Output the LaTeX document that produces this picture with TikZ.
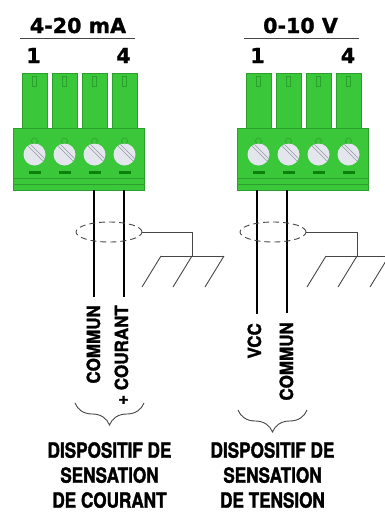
\documentclass[tikz,border=0pt]{standalone}
\usepackage{fontspec}
\usetikzlibrary{decorations.pathreplacing,shapes.geometric,calc}
\newfontfamily\titlefont{DejaVu Sans}[BoldFeatures={FakeBold=1.2}]
\newfontfamily\cnfont{TeX Gyre Heros}[FakeStretch=0.82, BoldFeatures={FakeBold=1.6}]
\newfontfamily\lblfont{TeX Gyre Heros}[FakeStretch=0.94, BoldFeatures={FakeBold=1.6}]
\definecolor{tabgreen}{RGB}{58,200,58}
\definecolor{edgegreen}{RGB}{44,160,44}
\definecolor{darkgreen}{RGB}{14,128,14}
\definecolor{screwfill}{RGB}{228,230,238}
\definecolor{screwline}{RGB}{150,150,165}
\definecolor{inkgray}{RGB}{70,70,70}
\tikzset{
  tabbox/.style={fill=tabgreen, draw=edgegreen, line width=0.6pt},
  slotbox/.style={draw=edgegreen, line width=0.6pt},
  bodybox/.style={rectangle, fill=tabgreen, draw=edgegreen, line width=0.6pt, inner sep=0pt},
  bodyline/.style={draw=edgegreen, line width=0.7pt},
  notchline/.style={draw=edgegreen, line width=0.6pt},
  screwdisc/.style={fill=screwfill},
  screwslot/.style={draw=screwline, line width=0.7pt},
  markbar/.style={fill=darkgreen},
  wire/.style={draw=black, line width=1.4pt},
  thinline/.style={draw=inkgray, line width=0.9pt},
  shield/.style={ellipse, draw=inkgray, dashed, dash pattern=on 6pt off 4pt, line width=0.9pt,
    minimum width=66pt, minimum height=20pt, inner sep=0pt},
  titletxt/.style={font=\titlefont\bfseries\fontsize{20.6}{24}\selectfont, inner sep=0pt, text=black},
  lbltxt/.style={font=\lblfont\bfseries\fontsize{18.1}{21}\selectfont, inner sep=0pt, rotate=90, text=black},
  bottomtxt/.style={font=\cnfont\bfseries\fontsize{20.9}{25}\selectfont, inner sep=0pt, align=center, anchor=north, text=black},
  bracedeco/.style={draw=inkgray, line width=0.9pt, decorate, decoration={brace, mirror, amplitude=22pt, aspect=0.5}}
}
\begin{document}
\begin{tikzpicture}[x=1pt,y=-1pt]
\clip (0,0) rectangle (385,515);
% connectors
\foreach \s/\n in {0/L,224/R} {
  \begin{scope}[xshift=\s pt]
    \foreach \i in {0,...,3} {
      \pgfmathsetmacro\cx{34.5+30*\i}
      \path[tabbox] (\cx-12.5,73) rectangle (\cx+12.5,129);
      \path[slotbox] (\cx-2,76) rectangle (\cx+2,86);
    }
    \node[bodybox, minimum width=131pt, minimum height=62pt] (body\n) at (78.5,159) {};
    \draw[bodyline] (13,178) -- (144,178);
    \draw[bodyline] (13,184) -- (144,184);
    \foreach \i in {0,...,3} {
      \pgfmathsetmacro\cx{34.5+30*\i}
      \draw[notchline] (\cx,141) circle (3pt);
      \fill[screwdisc] (\cx,154.5) circle (11pt);
      \begin{scope}
        \clip (\cx,154.5) circle (11pt);
        \draw[screwslot] (\cx-10,142.5) -- (\cx+10,162.5);
        \draw[screwslot] (\cx-8,140.5) -- (\cx+12,160.5);
      \end{scope}
      \fill[markbar] (\cx-6,171) rectangle (\cx+6,174);
    }
  \end{scope}
}
% titles
\node[titletxt, anchor=base] (tL) at (78,33) {4-20 mA};
\draw[thinline] (20,38) -- (135,38);
\node[titletxt, anchor=base] (oneL) at (33.5,63) {1};
\node[titletxt, anchor=base] (fourL) at (123.5,63) {4};
\node[titletxt, anchor=base] (tR) at (300.5,33) {0-10 V};
\draw[thinline] (244,38) -- (359,38);
\node[titletxt, anchor=base] (oneR) at (257.5,63) {1};
\node[titletxt, anchor=base] (fourR) at (348,63) {4};
% wire start points
\coordinate (wL1) at (94,190);
\coordinate (wL2) at (124,190);
\coordinate (wR1) at (257,190);
\coordinate (wR2) at (287,190);
% labels
\node[lbltxt, anchor=base east] (labL1) at (100,305) {COMMUN};
\node[lbltxt, anchor=base east] (labL2) at (128,305) {+ COURANT};
\node[lbltxt, anchor=base east] (labR1) at (261,323) {VCC};
\node[lbltxt, anchor=base east] (labR2) at (293,322) {COMMUN};
% wires
\draw[wire, shorten >=8pt] (wL1) -- (wL1 |- labL1.east);
\draw[wire, shorten >=8pt] (wL2) -- (wL2 |- labL2.east);
\draw[wire, shorten >=9pt] (wR1) -- (wR1 |- labR1.east);
\draw[wire, shorten >=9pt] (wR2) -- (wR2 |- labR2.east);
% shields
\node[shield] (shL) at (109,232) {};
\node[shield] (shR) at (273,232) {};
\coordinate (gL) at (192,256);
\coordinate (gR) at (357,256);
\draw[thinline] (shL.east) -| (gL);
\draw[thinline] (shR.east) -| (gR);
% grounds
\foreach \g/\o in {L/0,R/165} {
  \begin{scope}[xshift=\o pt]
    \coordinate (ga\g) at (161,256);
    \coordinate (gb\g) at (192,256);
    \coordinate (gc\g) at (224,256);
    \draw[thinline] (ga\g) -- (gc\g);
    \draw[thinline] (ga\g) -- ++(-19,31);
    \draw[thinline] (gb\g) -- ++(-19,31);
    \draw[thinline] (gc\g) -- ++(-19,31);
  \end{scope}
}
% braces
\coordinate (bL1) at (75,403);
\coordinate (bL2) at (144,403);
\coordinate (bR1) at (238,410);
\coordinate (bR2) at (307,410);
\draw[bracedeco] (bL1) -- (bL2);
\draw[bracedeco] (bR1) -- (bR2);
% bottom texts
\node[bottomtxt] (dL) at (109.5,442) {DISPOSITIF DE\\SENSATION\\DE COURANT};
\node[bottomtxt] (dR) at (272.5,442) {DISPOSITIF DE\\SENSATION\\DE TENSION};
\end{tikzpicture}
\end{document}
